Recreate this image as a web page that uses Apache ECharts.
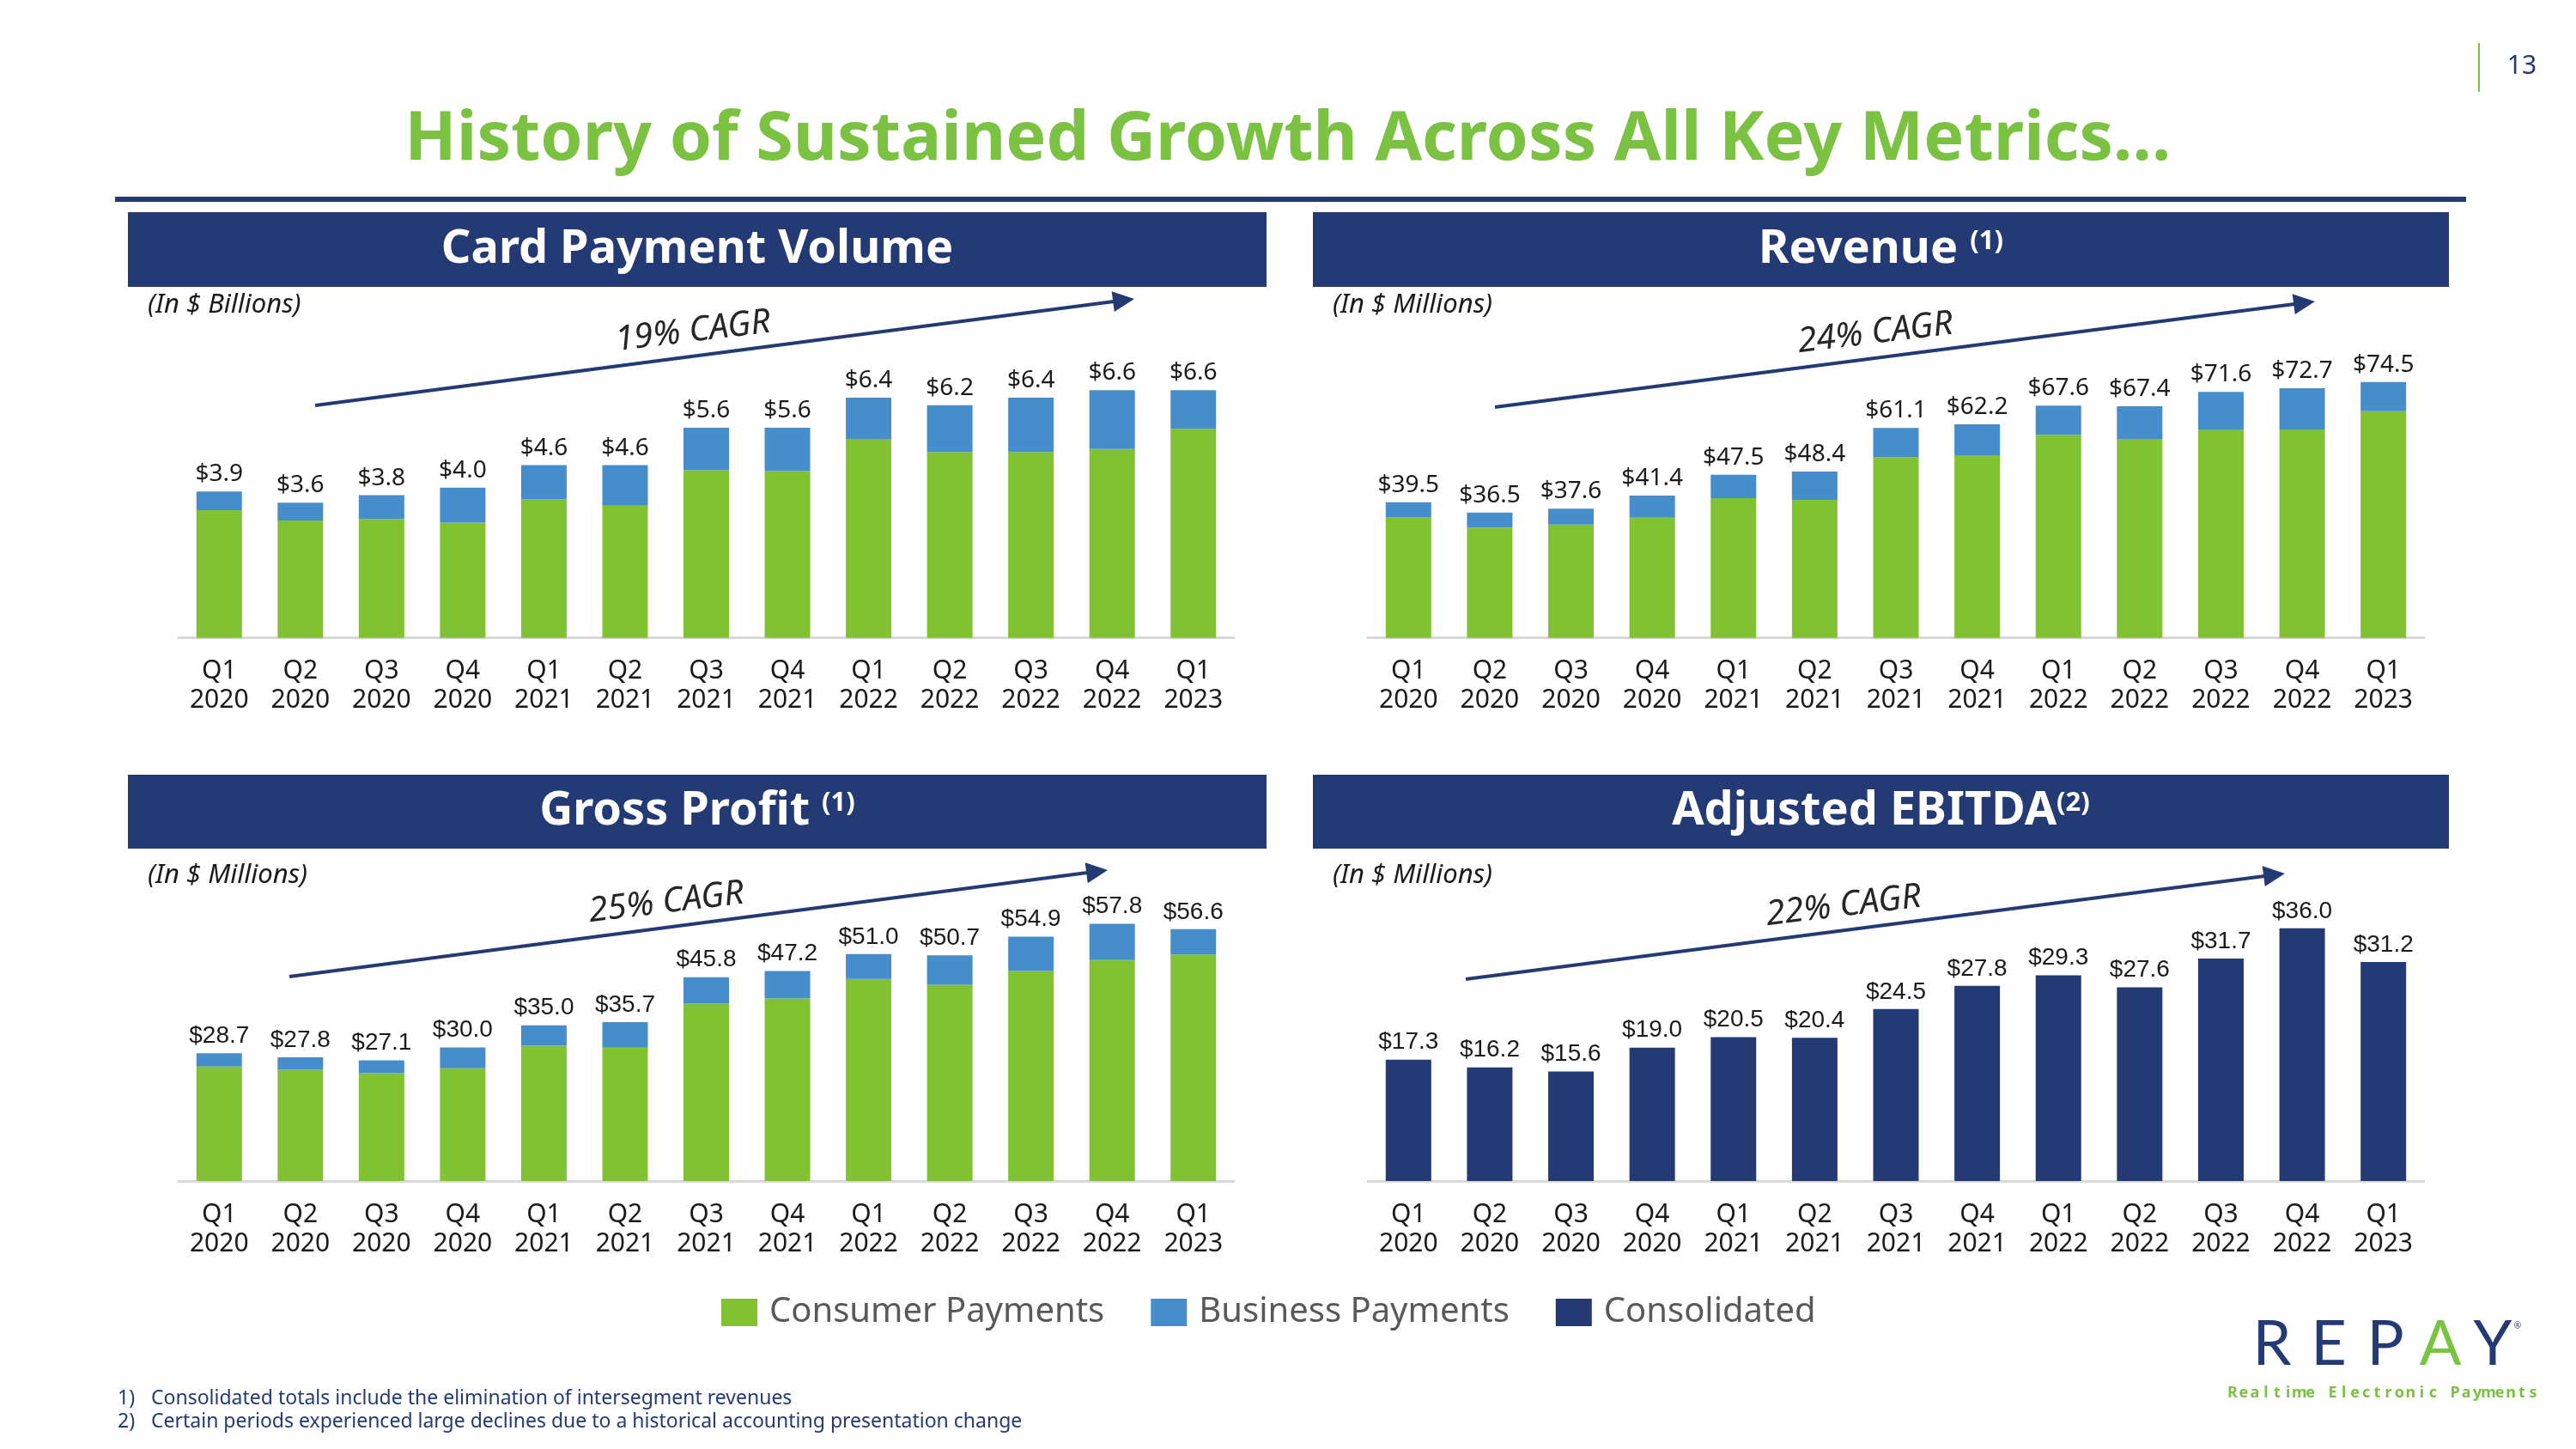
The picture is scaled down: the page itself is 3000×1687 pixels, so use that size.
<!DOCTYPE html>
<html>
<head>
<meta charset="utf-8">
<title>History of Sustained Growth Across All Key Metrics</title>
<script src="https://cdn.jsdelivr.net/npm/echarts/dist/echarts.min.js"></script>
<style>
  html, body { margin: 0; padding: 0; background: #ffffff; }
  #main { width: 3000px; height: 1687px; }
</style>
</head>
<body>
<div id="main"></div>
<script>
// categories
var quarters = ['Q1\n2020', 'Q2\n2020', 'Q3\n2020', 'Q4\n2020', 'Q1\n2021', 'Q2\n2021', 'Q3\n2021',
                'Q4\n2021', 'Q1\n2022', 'Q2\n2022', 'Q3\n2022', 'Q4\n2022', 'Q1\n2023'];

// Card Payment Volume ($ billions)
var cardConsumer = [3.40, 3.13, 3.17, 3.07, 3.69, 3.52, 4.47, 4.44, 5.30, 4.95, 4.95, 5.03, 5.57];
var cardBusiness = [0.50, 0.47, 0.63, 0.93, 0.91, 1.08, 1.13, 1.16, 1.10, 1.25, 1.45, 1.57, 1.03];
var cardTotal = [3.9, 3.6, 3.8, 4.0, 4.6, 4.6, 5.6, 5.6, 6.4, 6.2, 6.4, 6.6, 6.6];

// Revenue ($ millions)
var revConsumer = [35.1, 32.1, 33.0, 35.0, 40.7, 40.2, 52.6, 53.2, 59.1, 57.9, 60.5, 60.7, 66.0];
var revBusiness = [4.4, 4.4, 4.6, 6.4, 6.8, 8.2, 8.5, 9.0, 8.5, 9.5, 11.1, 12.0, 8.5];
var revTotal = [39.5, 36.5, 37.6, 41.4, 47.5, 48.4, 61.1, 62.2, 67.6, 67.4, 71.6, 72.7, 74.5];

// Gross Profit ($ millions)
var gpConsumer = [25.7, 25.0, 24.25, 25.35, 30.4, 29.95, 39.85, 41.0, 45.4, 44.1, 47.2, 49.65, 50.9];
var gpBusiness = [3.0, 2.8, 2.85, 4.65, 4.6, 5.75, 5.95, 6.2, 5.6, 6.6, 7.7, 8.15, 5.7];
var gpTotal = [28.7, 27.8, 27.1, 30.0, 35.0, 35.7, 45.8, 47.2, 51.0, 50.7, 54.9, 57.8, 56.6];

// Adjusted EBITDA ($ millions)
var ebitdaConsolidated = [17.3, 16.2, 15.6, 19.0, 20.5, 20.4, 24.5, 27.8, 29.3, 27.6, 31.7, 36.0, 31.2];

var cagrLabels = ['19% CAGR', '24% CAGR', '25% CAGR', '22% CAGR'];

var GREEN = '#80c232';
var BLUE = '#468ecb';
var NAVY = '#243a74';
var TITLE_GREEN = '#7bc142';
var FONT = 'Noto Sans';

var chart = echarts.init(document.getElementById('main'));

function xAxisFor(gi) {
  return {
    type: 'category', gridIndex: gi, data: quarters,
    axisLine: { lineStyle: { color: '#d9d9d9', width: 3 } },
    axisTick: { show: false },
    axisLabel: { interval: 0, margin: 22, fontSize: 30, lineHeight: 34, color: '#1a1a1a', fontFamily: FONT }
  };
}

function yAxisFor(gi, max) {
  return { type: 'value', gridIndex: gi, min: 0, max: max, show: false, splitLine: { show: false } };
}

function totalLabel(totals, family) {
  return {
    show: true, position: 'top', distance: 6,
    fontSize: 28, fontFamily: family, color: '#1a1a1a',
    formatter: function (p) { return '$' + totals[p.dataIndex].toFixed(1); }
  };
}

function stacked(gi, stackName, consumer, business, totals, family) {
  return [
    { name: 'Consumer Payments', type: 'bar', stack: stackName, xAxisIndex: gi, yAxisIndex: gi,
      barWidth: 53, data: consumer, itemStyle: { color: GREEN } },
    { name: 'Business Payments', type: 'bar', stack: stackName, xAxisIndex: gi, yAxisIndex: gi,
      barWidth: 53, data: business, itemStyle: { color: BLUE }, label: totalLabel(totals, family) }
  ];
}

// arrow = line + head
function arrow(x1, y1, x2, y2) {
  var dx = x2 - x1, dy = y2 - y1, L = Math.sqrt(dx * dx + dy * dy);
  var ux = dx / L, uy = dy / L, px = -uy, py = ux;
  var len = 25, hw = 12;
  var bx = x2 - ux * len, by = y2 - uy * len;
  return [
    { type: 'line', shape: { x1: x1, y1: y1, x2: bx + ux * 3, y2: by + uy * 3 },
      style: { stroke: NAVY, lineWidth: 4 } },
    { type: 'polygon', shape: { points: [[x2, y2], [bx + px * hw, by + py * hw], [bx - px * hw, by - py * hw]] },
      style: { fill: NAVY } }
  ];
}

function txt(x, y, s, opts) {
  var st = { text: s, fill: '#1a1a1a', fontFamily: FONT, fontSize: 27, align: 'left', verticalAlign: 'middle' };
  for (var k in opts) st[k] = opts[k];
  return { type: 'text', x: x, y: y, style: st, z: 10 };
}

function header(x, y, w, h, rich) {
  return [
    { type: 'rect', shape: { x: x, y: y, width: w, height: h }, style: { fill: NAVY } },
    { type: 'text', x: x + w / 2, y: y + h / 2, z: 10,
      style: { text: rich, align: 'center', verticalAlign: 'middle',
        rich: {
          a: { fontFamily: FONT, fontWeight: 'bold', fontSize: 54, fill: '#ffffff', lineHeight: 62 },
          s: { fontFamily: FONT, fontWeight: 'bold', fontSize: 31, fill: '#ffffff', lineHeight: 62, verticalAlign: 'top', padding: [6, 0, 0, 0] }
        } } }
  ];
}

var graphics = [];
// title + page number
graphics.push(txt(1500, 163, 'History of Sustained Growth Across All Key Metrics\u2026',
  { fill: TITLE_GREEN, fontSize: 79, fontWeight: 'bold', align: 'center' }));
graphics.push({ type: 'line', shape: { x1: 2887, y1: 50, x2: 2887, y2: 107 }, style: { stroke: TITLE_GREEN, lineWidth: 2 } });
graphics.push(txt(2937, 77, '13', { fill: NAVY, fontSize: 30, align: 'center' }));
graphics.push({ type: 'rect', shape: { x: 134, y: 229, width: 2738, height: 6 }, style: { fill: NAVY } });

// panel headers
graphics = graphics.concat(header(149, 247, 1326, 87, '{a|Card Payment Volume}'));
graphics = graphics.concat(header(1529, 247, 1323, 87, '{a|Revenue }{s|(1)}'));
graphics = graphics.concat(header(149, 902, 1326, 86, '{a|Gross Profit }{s|(1)}'));
graphics = graphics.concat(header(1529, 902, 1323, 86, '{a|Adjusted EBITDA}{s|(2)}'));

// units
graphics.push(txt(172, 355, '(In $ Billions)', { fontStyle: 'italic', fontSize: 31 }));
graphics.push(txt(1552, 355, '(In $ Millions)', { fontStyle: 'italic', fontSize: 31 }));
graphics.push(txt(172, 1019, '(In $ Millions)', { fontStyle: 'italic', fontSize: 31 }));
graphics.push(txt(1552, 1019, '(In $ Millions)', { fontStyle: 'italic', fontSize: 31 }));

// CAGR arrows and texts
graphics = graphics.concat(arrow(367, 472, 1321, 348));
graphics = graphics.concat(arrow(1741, 474, 2696, 351));
graphics = graphics.concat(arrow(337, 1137, 1290, 1013));
graphics = graphics.concat(arrow(1707, 1140, 2661, 1017));
var cagrPos = [[807, 386], [2184, 388], [776, 1051], [2147, 1055]];
for (var i = 0; i < 4; i++) {
  var t = txt(cagrPos[i][0], cagrPos[i][1], cagrLabels[i], { fontSize: 40, fontStyle: 'italic', align: 'center', fill: '#262626' });
  t.rotation = 0.12;
  graphics.push(t);
}

// footnotes
graphics.push(txt(137, 1628, '1)', { fontSize: 23, fill: NAVY }));
graphics.push(txt(176, 1628, 'Consolidated totals include the elimination of intersegment revenues', { fontSize: 23, fill: NAVY }));
graphics.push(txt(137, 1655, '2)', { fontSize: 23, fill: NAVY }));
graphics.push(txt(176, 1655, 'Certain periods experienced large declines due to a historical accounting presentation change', { fontSize: 23, fill: NAVY }));

// logo
var logoLetters = ['R', 'E', 'P', 'A', 'Y'];
var logoX = [2646, 2712, 2778, 2842, 2903];
for (var j = 0; j < logoLetters.length; j++) {
  graphics.push(txt(logoX[j], 1566, logoLetters[j], {
    fontSize: 72, fontFamily: 'Lato', fontWeight: 400, align: 'center',
    fill: logoLetters[j] === 'A' ? TITLE_GREEN : NAVY }));
}
graphics.push(txt(2932, 1544, '\u00ae', { fontSize: 10, fill: NAVY, align: 'center' }));
var tagline = 'Realtime Electronic Payments';
for (var c = 0; c < tagline.length; c++) {
  if (tagline[c] === ' ') continue;
  graphics.push(txt(2594 + c * 12.96 + 6, 1622, tagline[c], {
    fontSize: 18, fontWeight: 'bold', align: 'center', fill: TITLE_GREEN }));
}

var option = {
  animation: false,
  backgroundColor: '#ffffff',
  grid: [
    { left: 208, right: 1563, top: 393, bottom: 944.3, outerBoundsMode: 'none' },
    { left: 1593, right: 177, top: 382.7, bottom: 944.3, outerBoundsMode: 'none' },
    { left: 208, right: 1563, top: 1012.4, bottom: 312, outerBoundsMode: 'none' },
    { left: 1593, right: 177, top: 1007.3, bottom: 312, outerBoundsMode: 'none' }
  ],
  xAxis: [xAxisFor(0), xAxisFor(1), xAxisFor(2), xAxisFor(3)],
  yAxis: [yAxisFor(0, 8), yAxisFor(1, 90), yAxisFor(2, 70), yAxisFor(3, 45)],
  legend: {
    data: ['Consumer Payments', 'Business Payments', 'Consolidated'],
    left: 835, top: 1503, orient: 'horizontal',
    itemWidth: 42, itemHeight: 32, itemGap: 54, icon: 'rect', selectedMode: false,
    textStyle: { fontSize: 40, color: '#595959', fontFamily: FONT, padding: [0, 0, 0, 9] }
  },
  graphic: graphics,
  series: []
    .concat(stacked(0, 'card', cardConsumer, cardBusiness, cardTotal, FONT))
    .concat(stacked(1, 'rev', revConsumer, revBusiness, revTotal, FONT))
    .concat(stacked(2, 'gp', gpConsumer, gpBusiness, gpTotal, 'Liberation Sans'))
    .concat([{
      name: 'Consolidated', type: 'bar', xAxisIndex: 3, yAxisIndex: 3, barWidth: 53,
      data: ebitdaConsolidated, itemStyle: { color: NAVY },
      label: totalLabel(ebitdaConsolidated, 'Liberation Sans')
    }])
};

chart.setOption(option);
</script>
</body>
</html>
